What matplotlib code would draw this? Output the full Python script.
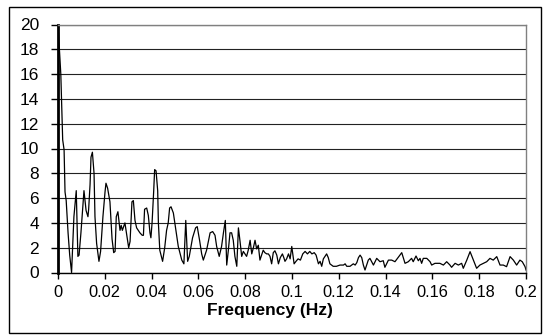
import matplotlib
matplotlib.use("Agg")
import matplotlib.pyplot as plt
from matplotlib.patches import Rectangle

plt.rcParams['font.family'] = ['Liberation Sans', 'DejaVu Sans']

freq = [0.0, 0.0012, 0.002, 0.0026, 0.003, 0.0035, 0.0043, 0.005, 0.0058, 0.0068,
        0.0078, 0.0085, 0.009, 0.0098, 0.0107, 0.0111, 0.012, 0.0128, 0.0131, 0.0137,
        0.0141, 0.0147, 0.0154, 0.0158, 0.0165, 0.0175, 0.0182, 0.0192, 0.0201, 0.0205,
        0.0212, 0.0222, 0.0231, 0.0238, 0.0244, 0.0249, 0.0256, 0.0265, 0.027, 0.0275,
        0.0286, 0.0295, 0.0302, 0.0308, 0.0316, 0.0322, 0.0329, 0.0336, 0.035, 0.036,
        0.0365, 0.037, 0.0379, 0.0386, 0.0393, 0.0397, 0.0402, 0.0409, 0.0413, 0.0419,
        0.0426, 0.0429, 0.0435, 0.0447, 0.0456, 0.0464, 0.0471, 0.0477, 0.0483, 0.0493,
        0.0504, 0.0514, 0.0529, 0.0538, 0.0546, 0.0554, 0.0561, 0.0575, 0.0588, 0.0595,
        0.0605, 0.0614, 0.0621, 0.0635, 0.065, 0.0661, 0.0671, 0.0678, 0.0689, 0.0699,
        0.0707, 0.0715, 0.0721, 0.0728, 0.0735, 0.0742, 0.0749, 0.0756, 0.0764, 0.0771,
        0.0778, 0.0785, 0.0792, 0.0799, 0.0806, 0.0813, 0.0821, 0.0828, 0.0835, 0.0842,
        0.0849, 0.0856, 0.0863, 0.087, 0.0877, 0.0884, 0.0892, 0.0899, 0.0906, 0.0913,
        0.092, 0.0927, 0.0935, 0.0942, 0.095, 0.0959, 0.0965, 0.097, 0.0977, 0.0985,
        0.0992, 0.0999, 0.1009, 0.1017, 0.1026, 0.1036, 0.1046, 0.1056, 0.1066, 0.1076,
        0.1085, 0.1095, 0.1103, 0.1113, 0.112, 0.1127, 0.1134, 0.1141, 0.1148, 0.1155,
        0.1162, 0.1176, 0.119, 0.1205, 0.122, 0.1227, 0.1234, 0.1248, 0.1262, 0.127,
        0.1277, 0.1284, 0.1291, 0.1298, 0.1305, 0.1312, 0.1326, 0.1333, 0.1348, 0.1362,
        0.1376, 0.139, 0.1397, 0.1412, 0.1426, 0.144, 0.1454, 0.1469, 0.1483, 0.1497,
        0.1511, 0.1518, 0.153, 0.154, 0.1547, 0.1554, 0.1561, 0.1576, 0.159, 0.1597,
        0.1611, 0.1632, 0.1647, 0.1661, 0.1675, 0.1682, 0.1697, 0.1711, 0.1725, 0.1732,
        0.1747, 0.1761, 0.1775, 0.1789, 0.1803, 0.1818, 0.1832, 0.1846, 0.186, 0.1875,
        0.1889, 0.1903, 0.1917, 0.1932, 0.1946, 0.196, 0.1974, 0.1984, 0.1996, 0.2]

amplitude = [20.0, 16.0, 10.7, 9.9, 6.5, 5.8, 3.2, 1.4, 0.0, 4.5,
             6.6, 1.3, 1.4, 3.2, 5.6, 6.6, 5.0, 4.5, 5.1, 7.1,
             9.3, 9.7, 8.0, 4.5, 2.35, 0.9, 1.7, 4.5, 6.5, 7.2,
             6.8, 5.7, 2.7, 1.6, 1.7, 4.5, 4.9, 3.4, 3.8, 3.4,
             4.0, 2.9, 2.0, 2.5, 5.7, 5.8, 4.2, 3.6, 3.2, 3.0,
             3.0, 5.1, 5.2, 4.6, 3.2, 2.8, 4.0, 6.6, 8.3, 8.2,
             6.6, 4.0, 1.8, 0.9, 2.0, 3.4, 4.0, 5.2, 5.3, 4.8,
             3.4, 2.1, 1.0, 0.7, 4.2, 0.9, 1.3, 2.8, 3.6, 3.7,
             2.6, 1.5, 1.0, 1.8, 3.2, 3.3, 3.0, 2.1, 1.3, 2.1,
             3.2, 4.2, 0.6, 1.8, 3.2, 3.2, 2.6, 1.3, 0.5, 3.6,
             2.5, 1.3, 1.7, 1.5, 1.3, 1.8, 2.6, 1.5, 2.0, 2.6,
             1.9, 2.2, 1.0, 1.4, 1.8, 1.6, 1.5, 1.5, 1.3, 0.7,
             1.6, 1.75, 1.4, 0.7, 1.2, 1.5, 1.2, 0.9, 1.1, 1.5,
             1.1, 2.1, 0.7, 0.9, 1.1, 1.0, 1.5, 1.7, 1.5, 1.7,
             1.5, 1.6, 1.4, 0.7, 0.9, 0.5, 1.1, 1.3, 1.5, 1.2,
             0.7, 0.5, 0.5, 0.6, 0.6, 0.7, 0.5, 0.5, 0.7, 0.6,
             0.8, 1.2, 1.4, 1.2, 0.6, 0.2, 1.0, 1.14, 0.6, 1.14,
             0.87, 0.95, 0.42, 1.0, 1.0, 0.87, 1.22, 1.6, 0.74, 0.87,
             1.14, 0.87, 1.33, 0.95, 1.14, 0.74, 1.14, 1.14, 0.87, 0.6,
             0.74, 0.74, 0.6, 0.87, 0.6, 0.42, 0.74, 0.6, 0.74, 0.34,
             1.0, 1.68, 1.0, 0.34, 0.6, 0.74, 0.87, 1.14, 1.0, 1.28,
             0.6, 0.6, 0.47, 1.28, 1.0, 0.6, 1.0, 0.87, 0.47, 0.2]

xticks = [0, 0.02, 0.04, 0.06, 0.08, 0.1, 0.12, 0.14, 0.16, 0.18, 0.2]
xticklabels = ['0', '0.02', '0.04', '0.06', '0.08', '0.1', '0.12', '0.14', '0.16', '0.18', '0.2']
yticks = [0, 2, 4, 6, 8, 10, 12, 14, 16, 18, 20]
xlabel = 'Frequency (Hz)'

W, H = 543, 335
fig = plt.figure(figsize=(W / 100, H / 100), dpi=100)
fig.patch.set_facecolor('white')

# outer chart frame
fig.patches.append(Rectangle((9 / W, 2 / H), 532 / W, 326 / H, transform=fig.transFigure,
                             fill=False, edgecolor='black', linewidth=1.0))

left, right, top, bottom = 58, 526, 24.5, 272.5
ax = fig.add_axes([left / W, (H - bottom) / H, (right - left) / W, (bottom - top) / H])
ax.plot(freq, amplitude, color='black', linewidth=0.9, clip_on=True)
ax.set_xlim(0, 0.2)
ax.set_ylim(0, 20)
ax.set_xticks(xticks)
ax.set_xticklabels(xticklabels)
ax.set_yticks(yticks)
ax.grid(axis='y', color='#222222', linewidth=0.8)
ax.set_axisbelow(True)
for s in ['top', 'right']:
    ax.spines[s].set_color('#808080')
    ax.spines[s].set_linewidth(1.0)
ax.spines['left'].set_linewidth(2.0)
ax.spines['left'].set_color('black')
ax.spines['bottom'].set_linewidth(1.0)
ax.spines['bottom'].set_color('black')
ax.tick_params(axis='y', direction='out', length=5, width=1, labelsize=12.5, pad=8.5)
ax.tick_params(axis='x', direction='out', length=4.3, width=1, labelsize=11.8, pad=4.5)
ax.set_xlabel(xlabel, fontsize=12.5, fontweight='bold', labelpad=0)
ax.xaxis.set_label_coords((270 - left) / (right - left), -(315 - bottom) / (bottom - top))
ax.xaxis.label.set_verticalalignment('baseline')

fig.savefig('out.png', dpi=100, facecolor='white')
